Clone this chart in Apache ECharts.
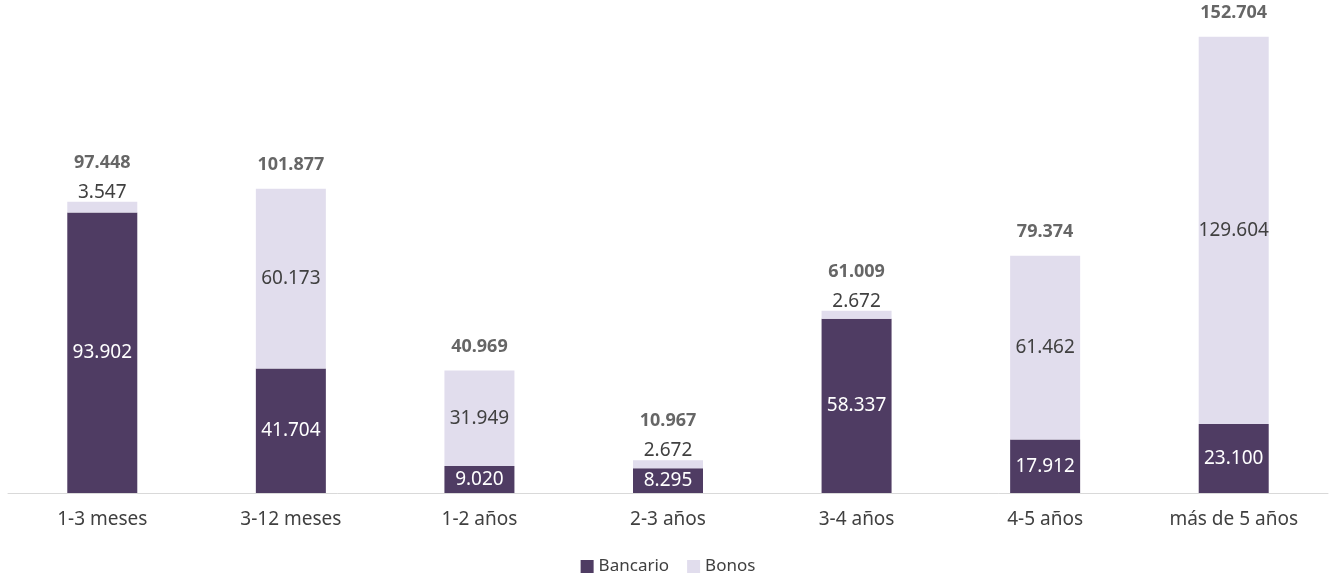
<!DOCTYPE html>
<html>
<head>
<meta charset="utf-8">
<script src="https://cdn.jsdelivr.net/npm/echarts@6/dist/echarts.min.js"></script>
<style>
  html, body { margin: 0; padding: 0; background: #fff; }
  #chart { width: 1336px; height: 582px; }
</style>
</head>
<body>
<div id="chart"></div>
<script>
// datos
const categories = ['1-3 meses', '3-12 meses', '1-2 años', '2-3 años', '3-4 años', '4-5 años', 'más de 5 años'];
const bancario = [93.902, 41.704, 9.020, 8.295, 58.337, 17.912, 23.100];
const bonos = [3.547, 60.173, 31.949, 2.672, 2.672, 61.462, 129.604];
const totales = [97.448, 101.877, 40.969, 10.967, 61.009, 79.374, 152.704];

const fmt = v => v.toFixed(3);
const txt = '#404040';
const font = '"Noto Sans", sans-serif';

const chart = echarts.init(document.getElementById('chart'));

const option = {
  animation: false,
  textStyle: { fontFamily: font },
  grid: { left: 8, right: 8, top: 15, bottom: 89 },
  legend: {
    data: ['Bancario', 'Bonos'],
    bottom: 2,
    left: 'center',
    icon: 'rect',
    itemWidth: 13,
    itemHeight: 13,
    itemGap: 18,
    textStyle: { color: txt, fontSize: 17, fontFamily: font }
  },
  xAxis: {
    type: 'category',
    data: categories,
    axisLine: { lineStyle: { color: '#d9d9d9', width: 1 } },
    axisTick: { show: false },
    axisLabel: { color: txt, fontSize: 19, margin: 17, fontFamily: font }
  },
  yAxis: {
    type: 'value',
    min: 0,
    max: 160,
    show: false,
    splitLine: { show: false }
  },
  series: [
    {
      name: 'Bancario',
      type: 'bar',
      stack: 'total',
      barWidth: 70,
      itemStyle: { color: '#4f3c63' },
      label: {
        show: true,
        position: 'inside',
        color: '#ffffff',
        fontSize: 19,
        fontFamily: font,
        formatter: p => fmt(p.value)
      },
      data: bancario
    },
    {
      name: 'Bonos',
      type: 'bar',
      stack: 'total',
      barWidth: 70,
      itemStyle: { color: '#e1dded' },
      data: bonos.map(v => ({
        value: v,
        label: v < 10
          ? { show: true, position: 'top', distance: 0 }
          : { show: true, position: 'inside' }
      })),
      label: {
        color: txt,
        fontSize: 19,
        fontFamily: font,
        formatter: p => fmt(p.value)
      }
    },
    {
      name: 'Total',
      type: 'scatter',
      symbolSize: 0,
      silent: true,
      data: totales.map((v, i) => ({
        value: v,
        label: { distance: bonos[i] < 10 ? 30 : 15 }
      })),
      label: {
        show: true,
        position: 'top',
        color: txt,
        fontSize: 18,
        fontWeight: 'bold',
        fontFamily: font,
        formatter: p => fmt(p.value)
      }
    }
  ]
};

chart.setOption(option);
</script>
</body>
</html>
